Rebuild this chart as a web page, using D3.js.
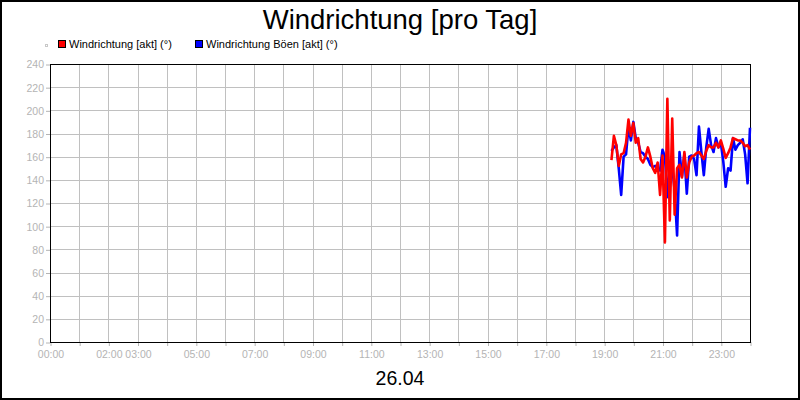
<!DOCTYPE html>
<html>
<head>
<meta charset="utf-8">
<script src="https://cdn.jsdelivr.net/npm/d3@7"></script>
<style>
  body { margin: 0; background: #fff; }
  text { font-family: "Liberation Sans", Arial, sans-serif; }
</style>
</head>
<body>
<div id="chart"></div>
<script>
// readings every 5 minutes, starting 19:15
var startMinute = 19 * 60 + 15;
var stepMinutes = 5;

// Windrichtung [akt] (red)
var dirValues = [157, 178, 170, 152, 162, 163, 172, 192, 178, 189,
  172, 176, 158, 155, 160, 168, 160, 150, 146, 155,
  127, 161, 86, 210, 105, 193, 110, 150, 153, 142,
  164, 142, 155, 160, 161, 163, 164, 161, 158, 165,
  170, 168, 168, 172, 168, 174, 167, 159, 163, 168,
  176, 175, 174, 174, 172, 169, 170, 166];

// Windrichtung Böen [akt] (blue)
var gustValues = [165, 168, 170, 150, 127, 160, 162, 186, 174, 190,
  176, 172, 164, 163, 160, 158, 153, 151, 152, 150,
  148, 166, 160, 125, 151, 151, 131, 92, 164, 143,
  162, 128, 160, 161, 158, 144, 186, 164, 144, 168,
  184, 170, 164, 176, 168, 172, 156, 134, 150, 148,
  176, 166, 170, 172, 175, 162, 137, 185];

// x tick labels (hours) and y ticks
var hourLabels = [0, 2, 3, 5, 7, 9, 11, 13, 15, 17, 19, 21, 23];
var yTicks = d3.range(0, 241, 20);

var seriesNames = ["Windrichtung [akt] (°)", "Windrichtung Böen [akt] (°)"];
var seriesColors = ["#ff0000", "#0000ff"];

// canvas
var width = 800;
var height = 400;
var plotLeft = 50;
var plotRight = 750;
var plotTop = 64;
var plotBottom = 342;
var gridColor = "#c0c0c0";
var labelColor = "#b4b4b4";

var svg = d3
  .select("#chart")
  .append("svg")
  .attr("width", width)
  .attr("height", height);

// outer border
svg
  .append("rect")
  .attr("x", 1)
  .attr("y", 1)
  .attr("width", width - 2)
  .attr("height", height - 2)
  .attr("fill", "#fff")
  .attr("stroke", "#000")
  .attr("stroke-width", 2);

// scales (x in hours)
var xScale = d3.scaleLinear().domain([0, 24]).range([plotLeft, plotRight]);
var yScale = d3.scaleLinear().domain([0, 240]).range([plotBottom, plotTop]);

// grid lines, one per hour and every 20
svg
  .append("g")
  .selectAll("line")
  .data(d3.range(1, 24))
  .enter()
  .append("line")
  .attr("x1", function(d) { return Math.round(xScale(d)) + 0.5; })
  .attr("x2", function(d) { return Math.round(xScale(d)) + 0.5; })
  .attr("y1", plotTop)
  .attr("y2", plotBottom)
  .attr("stroke", gridColor);

svg
  .append("g")
  .selectAll("line")
  .data(yTicks.slice(1, -1))
  .enter()
  .append("line")
  .attr("x1", plotLeft)
  .attr("x2", plotRight)
  .attr("y1", function(d) { return Math.round(yScale(d)) + 0.5; })
  .attr("y2", function(d) { return Math.round(yScale(d)) + 0.5; })
  .attr("stroke", gridColor);

// y axis
var yAxis = d3
  .axisLeft(yScale)
  .tickValues(yTicks)
  .tickSize(4)
  .tickPadding(2);

var yG = svg
  .append("g")
  .attr("transform", "translate(" + plotLeft + ",0.5)")
  .call(yAxis);
yG.select(".domain").remove();
yG.selectAll("line").attr("stroke", labelColor);
yG
  .selectAll("text")
  .attr("fill", labelColor)
  .attr("font-size", 10.5)
  .attr("font-family", "Liberation Sans, Arial, sans-serif");

// x axis: tick marks every hour, labels only on some hours
var xAxis = d3
  .axisBottom(xScale)
  .tickValues(d3.range(0, 25))
  .tickSize(4)
  .tickPadding(5)
  .tickFormat(function(d) {
    return hourLabels.indexOf(d) >= 0 ? (d < 10 ? "0" + d : d) + ":00" : "";
  });

var xG = svg
  .append("g")
  .attr("transform", "translate(0.5," + plotBottom + ")")
  .call(xAxis);
xG.select(".domain").remove();
xG.selectAll("line").attr("stroke", labelColor);
xG
  .selectAll("text")
  .attr("fill", labelColor)
  .attr("font-size", 10.5)
  .attr("font-family", "Liberation Sans, Arial, sans-serif");

// plot frame
svg
  .append("rect")
  .attr("x", plotLeft + 0.5)
  .attr("y", plotTop + 0.5)
  .attr("width", plotRight - plotLeft)
  .attr("height", plotBottom - plotTop)
  .attr("fill", "none")
  .attr("stroke", "#000");

// the lines
var line = d3
  .line()
  .x(function(d, i) { return xScale((startMinute + i * stepMinutes) / 60); })
  .y(function(d) { return yScale(d); });

[gustValues, dirValues].forEach(function(vals, k) {
  svg
    .append("path")
    .datum(vals)
    .attr("fill", "none")
    .attr("stroke", seriesColors[1 - k])
    .attr("stroke-width", 2.6)
    .attr("stroke-linejoin", "round")
    .attr("d", line);
});

// title and date
svg
  .append("text")
  .attr("x", 400)
  .attr("y", 29)
  .attr("text-anchor", "middle")
  .attr("font-size", 27.5)
  .text("Windrichtung [pro Tag]");

svg
  .append("text")
  .attr("x", 400)
  .attr("y", 385)
  .attr("text-anchor", "middle")
  .attr("font-size", 19.5)
  .text("26.04");

// legend
svg
  .append("rect")
  .attr("x", 45.5)
  .attr("y", 44.5)
  .attr("width", 2)
  .attr("height", 2)
  .attr("fill", "none")
  .attr("stroke", "#c8c8c8");

var legendX = [58, 195];
seriesNames.forEach(function(name, i) {
  svg
    .append("rect")
    .attr("x", legendX[i] + 0.5)
    .attr("y", 40.5)
    .attr("width", 7)
    .attr("height", 7)
    .attr("fill", seriesColors[i])
    .attr("stroke", "#000");
  svg
    .append("text")
    .attr("x", legendX[i] + 11)
    .attr("y", 48)
    .attr("font-size", 11)
    .text(name);
});
</script>
</body>
</html>
